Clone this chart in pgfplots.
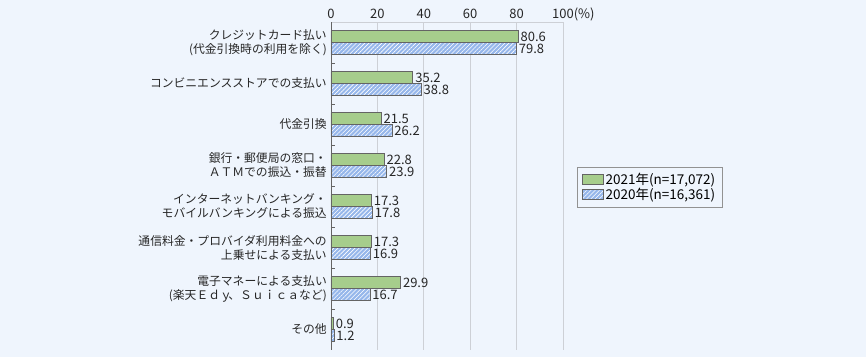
\documentclass[border=0pt]{standalone}
\usepackage{pgfplots}
\pgfplotsset{compat=1.18}
\usetikzlibrary{patterns,patterns.meta}
\usepackage{fontspec}
\setmainfont{Noto Sans CJK JP}
\definecolor{bg}{RGB}{239,245,253}
\definecolor{gfill}{RGB}{166,205,140}
\definecolor{bfill}{RGB}{150,183,235}
\definecolor{edge}{RGB}{100,100,100}
\definecolor{gridc}{RGB}{205,208,214}
\begin{document}
\begin{tikzpicture}
\fill[bg] (-331pt,-7pt) rectangle (535pt,350pt);
\begin{axis}[
  at={(0,0)}, anchor=south west,
  scale only axis, width=232pt, height=328pt,
  xbar, bar width=12pt,
  xmin=0, xmax=100, ymin=-0.5, ymax=7.5,
  y dir=reverse,
  axis x line*=top, axis y line*=left,
  x axis line style={draw=gridc, -},
  y axis line style={draw=edge, -},
  xtick={0,20,40,60,80,100},
  xticklabels={0,20,40,60,80,100\rlap{(\%)}},
  ytick={0,...,7},
  minor ytick={0.5,1.5,...,6.5},
  major tick length=0pt, minor tick length=4pt, tick align=inside,
  minor tick style={edge},
  xmajorgrids, major grid style={gridc, line width=0.8pt},
  yticklabels={{クレジットカード払い\\(代金引換時の利用を除く)},
    {コンビニエンスストアでの支払い},
    {代金引換},
    {銀行・郵便局の窓口・\\ＡＴＭでの振込・振替},
    {インターネットバンキング・\\モバイルバンキングによる振込},
    {通信料金・プロバイダ利用料金への\\上乗せによる支払い},
    {電子マネーによる支払い\\(楽天Ｅｄｙ\kern-0.3em、Ｓｕｉｃａなど)},
    {その他}},
  yticklabel style={align=right, font=\fontsize{11.8}{14}\selectfont, text=black!85, inner sep=2pt, xshift=-2pt},
  xticklabel style={font=\fontsize{13}{14}\selectfont, text=black!85, text depth=0pt},
  /pgf/number format/assume math mode=true,
  nodes near coords,
  every node near coord/.append style={font=\fontsize{13}{14}\selectfont, text=black!85, anchor=west, inner sep=2.5pt},
  nodes near coords style={/pgf/number format/.cd, fixed, fixed zerofill, precision=1},
  legend style={at={(rel axis cs:1.0603,0.558)}, anchor=north west, draw=edge!70, fill=bg,
    font=\fontsize{13.5}{14}\selectfont, inner xsep=5pt, inner ysep=4pt, row sep=-2pt,
    legend cell align=left},
  legend image code/.code={\draw[#1, bar width=0pt] (0pt,-5pt) rectangle (21pt,5pt);},
]
\addplot[draw=edge, fill=gfill, bar shift=6pt] coordinates {
(80.6,0) (35.2,1) (21.5,2) (22.8,3) (17.3,4) (17.3,5) (29.9,6) (0.9,7)};
\addplot[draw=edge, fill=bfill, bar shift=-6pt,
  postaction={pattern={Lines[angle=45, distance=3pt, line width=0.6pt]}, pattern color=white}] coordinates {
(79.8,0) (38.8,1) (26.2,2) (23.9,3) (17.8,4) (16.9,5) (16.7,6) (1.2,7)};
\legend{{2021年(n=17{,}072)}, {2020年(n=16{,}361)}}
\end{axis}
\end{tikzpicture}
\end{document}
